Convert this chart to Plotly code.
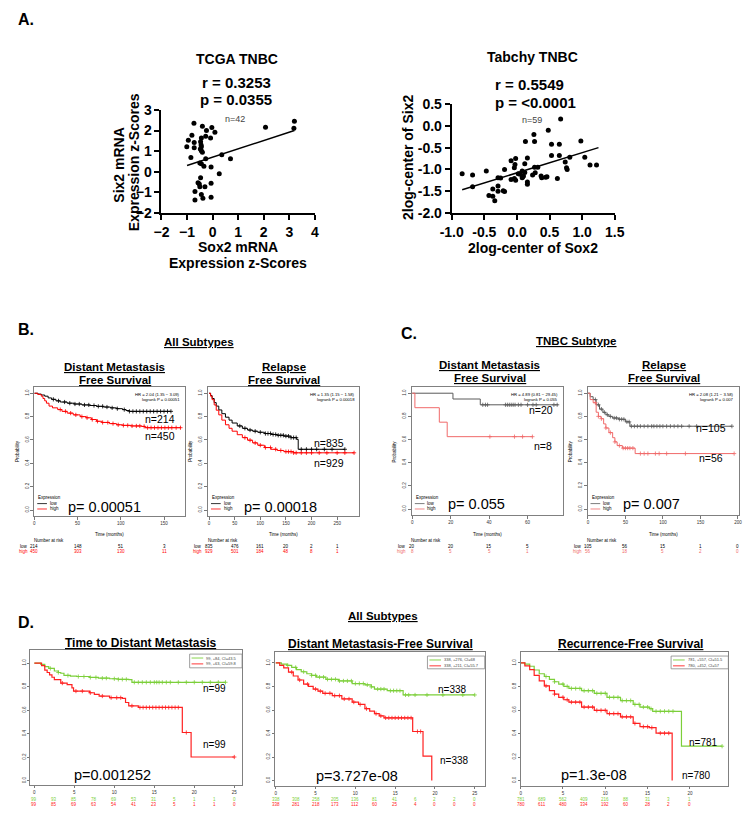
import numpy as np
import plotly.graph_objects as go

W, H = 750, 817
FONT = "Liberation Sans, Arial, Helvetica, sans-serif"

# ---------------- Panel A: scatter data ----------------
tcga_sox2 = [-0.73, -0.40, -0.03, -0.24, 0.09, -0.81, -0.95, -1.01, -0.72, -0.72, -0.85, -0.44,
             -0.27, -0.08, -0.47, -0.44, -0.48, -0.44, -0.27, -0.50, -0.44, -0.34, -0.06, 0.26,
             0.36, 0.70, -0.47, -0.57, -0.50, -0.30, -0.06, -0.69, -0.44, -0.38, -0.69, -0.06,
             2.07, 3.20, 3.18, -0.45, -0.40, -0.52]
tcga_six2 = [2.35, 2.21, 2.15, 2.00, 1.92, 1.77, 1.53, 1.21, 1.42, 1.16, 0.69, 1.64,
             1.72, 1.64, 1.45, 1.21, 1.10, 1.02, 0.63, 0.42, 0.39, 0.26, 0.23, -0.10,
             0.82, 0.63, -0.29, -0.53, -0.73, -0.73, -0.56, -0.96, -1.11, -1.29, -1.37, -1.24,
             2.16, 2.45, 2.11, 1.30, 0.95, -0.60]
tcga_fit_x = [-1.0, 3.2]
tcga_fit_y = [0.30, 2.00]

tabchy_sox2 = [-0.84, -0.68, -0.68, -0.47, -0.43, -0.37, -0.37, -0.34, -0.29, -0.29, -0.29, -0.21,
               -0.19, -0.19, -0.09, -0.09, -0.04, -0.02, -0.03, -0.04, -0.02, 0.02, 0.05, 0.08,
               0.09, 0.12, 0.08, 0.13, 0.16, 0.16, 0.16, 0.12, 0.26, 0.27, 0.27, 0.24, 0.28,
               0.32, 0.37, 0.38, 0.46, 0.48, 0.53, 0.53, 0.62, 0.65, 0.65, 0.67, 0.74, 0.76,
               0.77, 0.81, 0.98, 1.04, 1.12, 1.22, 0.10, -0.25, 0.44]
tabchy_six2 = [-1.10, -1.13, -1.40, -1.04, -1.60, -1.45, -1.62, -1.72, -1.38, -1.19, -1.50, -1.49,
               -1.51, -1.00, -0.80, -1.23, -1.21, -0.75, -0.89, -0.96, -1.25, -1.10, -1.11, -1.04,
               -1.17, -1.07, -1.19, -0.36, -0.74, -1.29, -1.34, -0.87, -0.20, -0.36, -0.95, -1.13, -1.08,
               -0.95, -1.15, -1.19, -1.17, -0.10, -0.42, -0.68, -1.21, -0.42, -0.68, 0.16, -0.83, -0.96,
               -1.00, -0.72, -0.35, -0.72, -0.90, -0.90, -1.15, -1.20, -1.18]
tabchy_fit_x = [-0.84, 1.25]
tabchy_fit_y = [-1.47, -0.50]

tcga_xticks = [-2, -1, 0, 1, 2, 3, 4]
tcga_yticks = [-2, -1, 0, 1, 2, 3]
tabchy_xticks = [-1.0, -0.5, 0.0, 0.5, 1.0, 1.5]
tabchy_xlabels = ["-1.0", "-0.5", "0.0", "0.5", "1.0", "1.5"]
tabchy_yticks = [-2.0, -1.5, -1.0, -0.5, 0.0, 0.5]
tabchy_ylabels = ["-2.0", "-1.5", "-1.0", "-0.5", "0.0", "0.5"]

# ---------------- Panel B: KM, all subtypes (months) ----------------
b1_low_t = [0, 4, 8, 12, 16, 20, 25, 30, 38, 46, 55, 64, 72, 80, 88, 95, 102, 106, 110, 158]
b1_low_s = [1.0, 0.993, 0.985, 0.975, 0.96, 0.948, 0.935, 0.925, 0.915, 0.908, 0.90, 0.895, 0.888,
            0.882, 0.875, 0.868, 0.86, 0.852, 0.845, 0.845]
b1_low_cens = [22, 28, 35, 41, 47, 52, 58, 63, 69, 74, 79, 84, 90, 96, 104, 110, 114, 118, 122, 126,
               130, 134, 138, 142, 146, 150, 154, 158]
b1_high_t = [0, 4, 8, 10, 12, 14, 17, 21, 27, 32, 38, 45, 53, 60, 66, 72, 78, 87, 95, 102, 112, 124, 128, 169]
b1_high_s = [1.0, 0.99, 0.975, 0.955, 0.935, 0.915, 0.89, 0.875, 0.86, 0.845, 0.83, 0.815, 0.80, 0.79,
             0.775, 0.76, 0.75, 0.74, 0.73, 0.725, 0.72, 0.716, 0.705, 0.705]
b1_high_cens = [30, 36, 42, 48, 55, 61, 67, 73, 79, 85, 91, 97, 103, 108, 113, 118, 122, 127, 131, 135,
                139, 143, 147, 151, 155, 159, 164, 169]
b1_risk_t = [0, 50, 100, 150]
b1_risk_low = [214, 148, 51, 3]
b1_risk_high = [450, 303, 130, 11]

b2_low_t = [0, 3, 6, 10, 14, 19, 25, 32, 39, 45, 55, 65, 75, 85, 95, 108, 121, 133, 146, 160, 171, 174, 265]
b2_low_s = [1.0, 0.98, 0.955, 0.92, 0.89, 0.857, 0.825, 0.795, 0.77, 0.745, 0.72, 0.70, 0.685, 0.675,
            0.666, 0.655, 0.647, 0.64, 0.633, 0.62, 0.605, 0.52, 0.52]
b2_low_cens = [60, 70, 80, 90, 100, 110, 115, 120, 125, 130, 135, 140, 145, 150, 155, 160, 165, 170,
               180, 190, 200, 210, 225, 240, 265]
b2_high_t = [0, 3, 6, 10, 14, 19, 25, 32, 39, 45, 55, 65, 75, 85, 95, 108, 121, 133, 146, 165, 283]
b2_high_s = [1.0, 0.975, 0.945, 0.90, 0.855, 0.815, 0.77, 0.73, 0.70, 0.675, 0.645, 0.62, 0.598,
             0.575, 0.555, 0.535, 0.52, 0.51, 0.50, 0.49, 0.49]
b2_high_cens = [70, 80, 90, 100, 110, 120, 130, 140, 150, 155, 160, 165, 170, 180, 190, 200, 215,
                230, 250, 265, 283]
b2_risk_t = [0, 50, 100, 150, 200, 250]
b2_risk_low = [835, 476, 161, 20, 2, 1]
b2_risk_high = [929, 501, 184, 48, 8, 1]

# ---------------- Panel C: KM, TNBC subtype (months) ----------------
c1_low_t = [0, 21.2, 35.4, 76]
c1_low_s = [1.0, 0.95, 0.90, 0.90]
c1_low_cens = [36.7, 38.1, 39.2, 48.5, 49.5, 50.5, 51.5, 52.5, 53.5, 55.2, 56.6, 60, 62.8, 64.5, 73.7, 75.4]
c1_high_t = [0, 1.4, 14.1, 18.2, 62.6]
c1_high_s = [1.0, 0.875, 0.75, 0.625, 0.625]
c1_high_cens = [40.4, 53.2, 57.4, 62.5]
c1_risk_t = [0, 20, 40, 60]
c1_risk_low = [20, 20, 15, 5]
c1_risk_high = [8, 5, 5, 1]

c2_low_t = [0, 3, 7, 11, 15.5, 20, 24, 28, 32.6, 41, 50, 56, 192]
c2_low_s = [1.0, 0.97, 0.945, 0.90, 0.863, 0.835, 0.814, 0.80, 0.786, 0.775, 0.753, 0.715, 0.715]
c2_low_cens = [10, 14, 18, 22, 26, 30, 35, 38, 42, 45, 48, 52, 55, 58, 62, 66, 70, 75, 80, 85, 88,
               92, 96, 100, 105, 110, 115, 120, 125, 135, 145, 192]
c2_high_t = [0, 3, 7, 11, 14, 17.5, 21, 24, 28, 33, 36, 39, 46, 63, 195]
c2_high_s = [1.0, 0.945, 0.918, 0.836, 0.80, 0.78, 0.735, 0.70, 0.66, 0.616, 0.58, 0.548, 0.526, 0.479, 0.479]
c2_high_cens = [10, 14, 18, 24, 30, 36, 42, 47, 50, 53, 56, 60, 70, 75, 80, 90, 95, 105, 130, 195]
c2_risk_t = [0, 50, 100, 150, 200]
c2_risk_low = [105, 56, 15, 1, 0]
c2_risk_high = [56, 18, 5, 2, 0]

# ---------------- Panel D: KM (years) ----------------
d1_low_t = [0, 0.8, 1.3, 1.8, 2.5, 3.0, 3.3, 3.7, 4.5, 5.3, 6.9, 8.0, 9.4, 10.5, 11.8, 12.2, 23.9]
d1_low_s = [1.0, 0.99, 0.97, 0.955, 0.933, 0.92, 0.914, 0.895, 0.89, 0.886, 0.878, 0.872, 0.867,
            0.862, 0.859, 0.837, 0.837]
d1_low_cens = [2.0, 3.0, 4.2, 5.5, 6.2, 7.0, 7.7, 8.5, 9.0, 10.0, 10.5, 11.0, 11.5, 12.5, 13.0, 13.5,
               14.0, 14.5, 15.0, 15.3, 15.6, 16.0, 16.5, 17.0, 18.0, 19.0, 20.0, 21.0, 22.0, 23.0, 23.9]
d1_high_t = [0, 0.9, 1.3, 1.6, 1.9, 2.2, 2.5, 3.3, 4.1, 4.7, 4.9, 6.9, 7.5, 8.1, 9.4, 11.0, 11.4,
             11.8, 13.0, 18.5, 19.6, 25.0]
d1_high_s = [1.0, 0.978, 0.94, 0.92, 0.90, 0.88, 0.859, 0.83, 0.817, 0.789, 0.762, 0.748, 0.735,
             0.72, 0.706, 0.70, 0.665, 0.637, 0.623, 0.41, 0.202, 0.202]
d1_high_cens = [3.5, 5.2, 6.0, 7.0, 8.5, 9.6, 10.3, 10.8, 12.2, 13.2, 13.6, 14.0, 14.4, 14.8, 15.2,
                15.6, 16.0, 16.4, 16.8, 17.2, 17.6, 18.0, 19.0, 25.0]
d1_risk_t = [0, 2.5, 5, 7.5, 10, 12.5, 15, 17.5, 20, 22.5, 25]
d1_risk_low = [99, 93, 85, 78, 69, 53, 31, 5, 1, 1, 0]
d1_risk_high = [99, 85, 69, 63, 54, 41, 23, 5, 1, 1, 0]
d1_legend = ["99, +84, CI=43.5", "99, +63, CI=59.8"]

d2_low_t = [0, 0.7, 1.4, 2.0, 2.6, 3.2, 3.9, 4.5, 5.1, 6.3, 7.9, 9.6, 11.2, 12.0, 12.4, 14.0, 16.0, 25.0]
d2_low_s = [1.0, 0.99, 0.98, 0.962, 0.944, 0.925, 0.908, 0.894, 0.88, 0.861, 0.847, 0.825, 0.814,
            0.797, 0.778, 0.764, 0.728, 0.728]
d2_low_cens = [1.5, 2.5, 3.5, 4.5, 5.0, 5.5, 6.0, 6.5, 7.0, 7.5, 8.0, 8.5, 9.0, 9.5, 10.0, 10.5, 11.0,
               11.5, 12.0, 12.8, 13.2, 13.6, 14.4, 14.8, 15.2, 15.6, 16.3, 16.7, 17.5, 19.0, 21.0, 23.5, 25.0]
d2_high_t = [0, 0.5, 1.0, 1.6, 2.2, 2.8, 3.5, 4.1, 4.7, 5.3, 5.9, 7.1, 8.3, 9.6, 10.4, 11.2, 11.8,
             12.4, 13.0, 13.6, 17.2, 18.5, 19.6]
d2_high_s = [1.0, 0.98, 0.958, 0.922, 0.889, 0.855, 0.82, 0.80, 0.778, 0.76, 0.742, 0.722, 0.694,
             0.667, 0.647, 0.611, 0.59, 0.569, 0.55, 0.533, 0.417, 0.208, 0.0]
d2_high_cens = [2.0, 3.0, 4.0, 5.0, 5.6, 6.2, 6.8, 7.4, 8.0, 8.6, 9.2, 9.8, 10.6, 11.4, 12.6, 13.2,
                13.8, 14.2, 14.6, 15.0, 15.4, 15.8, 16.2, 16.6, 17.0, 17.8, 18.2]
d2_risk_t = [0, 2.5, 5, 7.5, 10, 12.5, 15, 17.5, 20, 22.5, 25]
d2_risk_low = [338, 308, 258, 205, 136, 81, 41, 6, 2, 2, 0]
d2_risk_high = [338, 281, 218, 173, 112, 60, 25, 4, 0, 0, 0]
d2_legend = ["338, +276, CI=68", "338, +211, CI=55.7"]

d3_low_t = [0, 0.5, 1.07, 1.6, 2.2, 2.8, 3.4, 4.0, 4.5, 5.1, 5.7, 7.2, 8.7, 10.2, 11.8, 13.3, 14.1,
            15.2, 15.6, 19.0, 23.8]
d3_low_s = [1.0, 0.99, 0.972, 0.94, 0.908, 0.885, 0.861, 0.84, 0.82, 0.80, 0.783, 0.764, 0.742,
            0.708, 0.68, 0.647, 0.625, 0.611, 0.589, 0.292, 0.292]
d3_low_cens = [3.0, 4.0, 5.0, 5.5, 6.0, 6.5, 7.0, 7.5, 8.0, 8.5, 9.0, 9.5, 10.0, 10.5, 11.0, 11.5,
               12.0, 12.5, 13.0, 13.5, 14.0, 14.5, 15.0, 15.4, 16.0, 16.5, 17.0, 17.5, 18.0, 23.8]
d3_high_t = [0, 0.5, 1.07, 1.6, 2.2, 2.8, 3.4, 4.0, 4.5, 5.1, 5.7, 7.2, 8.7, 10.2, 11.8, 13.3, 14.1,
             15.2, 16.0, 17.9]
d3_high_s = [1.0, 0.975, 0.944, 0.895, 0.847, 0.805, 0.764, 0.735, 0.708, 0.687, 0.667, 0.625,
             0.597, 0.569, 0.542, 0.486, 0.458, 0.45, 0.403, 0.0]
d3_high_cens = [3.0, 4.0, 5.0, 5.5, 6.0, 6.5, 7.0, 7.5, 8.0, 8.5, 9.0, 9.5, 10.0, 10.5, 11.0, 11.5,
                12.0, 12.5, 13.0, 13.5, 14.5, 15.0, 15.5, 16.5, 17.0, 17.5]
d3_risk_t = [0, 2.5, 5, 7.5, 10, 12.5, 15, 17.5, 20]
d3_risk_low = [781, 689, 562, 409, 216, 88, 31, 3, 1]
d3_risk_high = [780, 611, 480, 334, 192, 60, 28, 2, 0]
d3_legend = ["781, +557, CI=51.5", "780, +452, CI=57"]

km_yticks = [0.0, 0.2, 0.4, 0.6, 0.8, 1.0]
km_ylabels = ["0.0", "0.2", "0.4", "0.6", "0.8", "1.0"]

# ------------------------------------------------------------------
fig = go.Figure()
annotations = []
shapes = []
axes = {}


def px_x(x):
    return x / W


def px_y(y):
    return 1 - y / H


def T(text, x, y, size, color="black", bold=False, xanchor="center", yanchor="middle",
      angle=0, xref=None, yref=None):
    annotations.append(dict(
        text=text, showarrow=False,
        x=x if xref else px_x(x), xref=xref or "paper",
        y=y if yref else px_y(y), yref=yref or "paper",
        xanchor=xanchor, yanchor=yanchor, textangle=angle, borderpad=0,
        font=dict(family=FONT, size=size, color=color, weight="bold" if bold else "normal"),
    ))


def ax_names(i):
    return ("x" if i == 1 else f"x{i}"), ("y" if i == 1 else f"y{i}")


def add_axes(i, xdom, ydom, xr, yr, xkw, ykw):
    xn, yn = ax_names(i)
    axes["xaxis" if i == 1 else f"xaxis{i}"] = dict(
        domain=[px_x(xdom[0]), px_x(xdom[1])], range=xr, anchor=yn,
        showgrid=False, zeroline=False, **xkw)
    axes["yaxis" if i == 1 else f"yaxis{i}"] = dict(
        domain=[px_y(ydom[1]), px_y(ydom[0])], range=yr, anchor=xn,
        showgrid=False, zeroline=False, **ykw)


# ---------------- Panel A ----------------
a_axis = dict(showline=True, linecolor="black", linewidth=2, ticks="outside", ticklen=5,
              tickwidth=2, tickcolor="black",
              tickfont=dict(family=FONT, size=14, color="black", weight="bold"))

add_axes(1, (154, 312), (104, 209), [-2, 4], [-2, 3],
         dict(tickvals=tcga_xticks, **a_axis), dict(tickvals=tcga_yticks, **a_axis))
fig.add_trace(go.Scatter(x=tcga_sox2, y=tcga_six2, mode="markers", xaxis="x", yaxis="y",
                         marker=dict(color="black", size=5), showlegend=False))
fig.add_trace(go.Scatter(x=tcga_fit_x, y=tcga_fit_y, mode="lines", xaxis="x", yaxis="y",
                         line=dict(color="black", width=1.5), showlegend=False))

add_axes(2, (453, 621), (98, 209), [-1, 1.5], [-2, 0.5],
         dict(tickvals=tabchy_xticks, ticktext=tabchy_xlabels, **a_axis),
         dict(tickvals=tabchy_yticks, ticktext=tabchy_ylabels, **a_axis))
fig.add_trace(go.Scatter(x=tabchy_sox2, y=tabchy_six2, mode="markers", xaxis="x2", yaxis="y2",
                         marker=dict(color="black", size=5), showlegend=False))
fig.add_trace(go.Scatter(x=tabchy_fit_x, y=tabchy_fit_y, mode="lines", xaxis="x2", yaxis="y2",
                         line=dict(color="black", width=1.5), showlegend=False))

T("A.", 5, 12, 16, bold=True, xanchor="left")
T("TCGA TNBC", 232, 52, 14, bold=True)
T("r = 0.3253", 231, 76, 15, bold=True)
T("p = 0.0355", 231, 93, 15, bold=True)
T("n=42", 230, 113, 9, color="#444")
T("Six2 mRNA", 110, 160, 14, bold=True, angle=-90)
T("Expression z-Scores", 126, 157, 14, bold=True, angle=-90)
T("Sox2 mRNA", 233, 244, 14, bold=True)
T("Expression z-Scores", 233, 260, 14, bold=True)

T("Tabchy TNBC", 536, 50, 14, bold=True)
T("r = 0.5549", 533, 78, 15, bold=True)
T("p = <0.0001", 539, 96, 15, bold=True)
T("n=59", 536, 114, 9, color="#444")
T("2log-center of Six2", 408, 153, 14, bold=True, angle=-90)
T("2log-center of Sox2", 537, 245, 14, bold=True)


# ---------------- KM helper ----------------
def step_at(t, s, tc):
    t = np.asarray(t, float)
    s = np.asarray(s, float)
    idx = np.searchsorted(t, np.asarray(tc, float), side="right") - 1
    return s[np.clip(idx, 0, len(s) - 1)]


def km_panel(i, xdom, ydom, xr, yr, xticks, curves, box_color="#808080", lw=1.0, ticklen=3):
    xn, yn = ax_names(i)
    common = dict(showline=True, mirror=True, linecolor=box_color, linewidth=1,
                  ticks="outside", ticklen=ticklen, tickwidth=0.8, tickcolor="#555",
                  tickfont=dict(family=FONT, size=4.5, color="#333"))
    add_axes(i, xdom, ydom, xr, yr,
             dict(tickvals=xticks, **common),
             dict(tickvals=km_yticks, ticktext=km_ylabels, tickangle=-90, **common))
    for t, s, cens, col in curves:
        fig.add_trace(go.Scatter(x=t, y=s, mode="lines", xaxis=xn, yaxis=yn,
                                 line=dict(color=col, width=lw, shape="hv"), showlegend=False))
        fig.add_trace(go.Scatter(x=cens, y=step_at(t, s, cens), mode="markers", xaxis=xn, yaxis=yn,
                                 marker=dict(symbol="cross-thin", size=3, line=dict(color=col, width=0.8)),
                                 showlegend=False))


def risk_rows(i, times, low, high, y_low, y_high, c_low, c_high):
    xn, _ = ax_names(i)
    for t, v in zip(times, low):
        T(str(v), t, y_low, 4.5, color=c_low, xref=xn)
    for t, v in zip(times, high):
        T(str(v), t, y_high, 4.5, color=c_high, xref=xn)


# ---------------- Panel B ----------------
T("B.", 5, 328, 16, bold=True, xanchor="left")
T("<u>All Subtypes</u>", 193, 341, 11.5, bold=True)
T("<u>Distant Metastasis</u>", 106, 366, 11.5, bold=True)
T("<u>Free Survival</u>", 106, 379, 11.5, bold=True)
T("<u>Relapse</u>", 280, 366, 11.5, bold=True)
T("<u>Free Survival</u>", 280, 379, 11.5, bold=True)

km_panel(3, (23, 178), (387, 518), [0, 174], [-0.05, 1.05], [0, 50, 100, 150],
         [(b1_low_t, b1_low_s, b1_low_cens, "black"), (b1_high_t, b1_high_s, b1_high_cens, "#ff0000")])
km_panel(4, (202, 358), (387, 518), [-1.9, 293.6], [-0.05, 1.05], [0, 50, 100, 150, 200, 250],
         [(b2_low_t, b2_low_s, b2_low_cens, "black"), (b2_high_t, b2_high_s, b2_high_cens, "#ff0000")])

# ---------------- Panel C ----------------
T("C.", 400, 332, 16, bold=True, xanchor="left")
T("<u>TNBC Subtype</u>", 582, 340, 11.5, bold=True)
T("<u>Distant Metastasis</u>", 492, 364, 11.5, bold=True)
T("<u>Free Survival</u>", 492, 377, 11.5, bold=True)
T("<u>Relapse</u>", 672, 364, 11.5, bold=True)
T("<u>Free Survival</u>", 672, 377, 11.5, bold=True)

C_LOW, C_HIGH = "#5a5a5a", "#f06a6a"
km_panel(5, (412, 568), (387, 517), [-0.15, 78.6], [-0.05, 1.05], [0, 20, 40, 60],
         [(c1_low_t, c1_low_s, c1_low_cens, C_LOW), (c1_high_t, c1_high_s, c1_high_cens, C_HIGH)])
km_panel(6, (593, 749), (387, 517), [-0.4, 201.5], [-0.05, 1.05], [0, 50, 100, 150, 200],
         [(c2_low_t, c2_low_s, c2_low_cens, C_LOW), (c2_high_t, c2_high_s, c2_high_cens, C_HIGH)])

bc_info = [
    (3, 23, 178, 100, "HR = 2.04 (1.35 \u2212 3.09)", "logrank P = 0.00051", "p= 0.00051", 57,
     ("n=214", 152, 419), ("n=450", 152, 437), b1_risk_t, b1_risk_low, b1_risk_high, "black", "#ff0000", 509),
    (4, 202, 358, 280, "HR = 1.35 (1.15 \u2212 1.58)", "logrank P = 0.00018", "p= 0.00018", 238,
     ("n=835", 327, 444), ("n=929", 327, 464), b2_risk_t, b2_risk_low, b2_risk_high, "black", "#ff0000", 509),
    (5, 412, 568, 490, "HR = 4.89 (0.81 \u2212 29.45)", "logrank P = 0.055", "p= 0.055", 448,
     ("n=20", 545, 410), ("n=8", 547, 447), c1_risk_t, c1_risk_low, c1_risk_high, C_LOW, C_HIGH, 506),
    (6, 593, 749, 671, "HR = 2.08 (1.21 \u2212 3.58)", "logrank P = 0.007", "p= 0.007", 628,
     ("n=105", 720, 428), ("n=56", 720, 459), c2_risk_t, c2_risk_low, c2_risk_high, C_LOW, C_HIGH, 506),
]
for (ax, lft, rgt, ctr, hr, lr, ptxt, pxx, nlo, nhi, rt, rl, rh, clo, chi, py) in bc_info:
    T(hr, rgt - 4, 394, 4.2, xanchor="right")
    T(lr, rgt - 4, 399, 4.2, xanchor="right")
    T(ptxt, pxx, py, 14.5, xanchor="left")
    T(nlo[0], nlo[1], nlo[2], 10.5)
    T(nhi[0], nhi[1], nhi[2], 10.5)
    T("Probability", lft - 18, 452, 4.5, angle=-90)
    T("Time (months)", ctr, 537, 4.5)
    T("Number at risk", lft + 15, 543, 4.5)
    T("low", lft - 5, 549, 4.5, xanchor="right")
    T("high", lft - 5, 554, 4.5, color=chi, xanchor="right")
    risk_rows(ax, rt, rl, rh, 549, 554, "black", chi)
    T("Expression", lft + 3, 499, 4.5, xanchor="left")
    shapes.append(dict(type="line", xref="paper", yref="paper", x0=px_x(lft + 3), x1=px_x(lft + 13),
                       y0=px_y(505.5), y1=px_y(505.5), line=dict(color=clo, width=0.8)))
    shapes.append(dict(type="line", xref="paper", yref="paper", x0=px_x(lft + 3), x1=px_x(lft + 13),
                       y0=px_y(511), y1=px_y(511), line=dict(color=chi, width=0.8)))
    T("low", lft + 15, 505.5, 4.5, xanchor="left")
    T("high", lft + 15, 511, 4.5, xanchor="left")

# ---------------- Panel D ----------------
T("D.", 5, 627, 16, bold=True, xanchor="left")
T("<u>All Subtypes</u>", 382, 620, 11.5, bold=True)
T("<u>Time to Distant Metastasis</u>", 132, 648, 12, bold=True)
T("<u>Distant Metastasis-Free Survival</u>", 380, 649, 12, bold=True)
T("<u>Recurrence-Free Survival</u>", 637, 649, 12, bold=True)

D_LOW, D_HIGH = "#7ccf3a", "#ff2020"
km_panel(7, (19, 237), (655, 793), [-0.49, 25.97], [-0.04, 1.11], [0, 5, 10, 15, 20, 25],
         [(d1_low_t, d1_low_s, d1_low_cens, D_LOW), (d1_high_t, d1_high_s, d1_high_cens, D_HIGH)],
         lw=1.2, ticklen=2)
km_panel(8, (271, 487), (657, 794), [-0.09, 26.25], [-0.05, 1.092], [0, 5, 10, 15, 20, 25],
         [(d2_low_t, d2_low_s, d2_low_cens, D_LOW), (d2_high_t, d2_high_s, d2_high_cens, D_HIGH)],
         lw=1.2, ticklen=2)
km_panel(9, (524, 738), (657, 794), [0, 24.54], [-0.05, 1.092], [0, 5, 10, 15, 20],
         [(d3_low_t, d3_low_s, d3_low_cens, D_LOW), (d3_high_t, d3_high_s, d3_high_cens, D_HIGH)],
         lw=1.2, ticklen=2)

d_info = [
    (7, d1_risk_t, d1_risk_low, d1_risk_high, d1_legend, (183, 237, 659, 673),
     "p=0.001252", 63, 782, ("n=99", 209, 694), ("n=99", 209, 751)),
    (8, d2_risk_t, d2_risk_low, d2_risk_high, d2_legend, (428, 487, 661, 674),
     "p=3.727e-08", 312, 783, ("n=338", 454, 695), ("n=338", 456, 768)),
    (9, d3_risk_t, d3_risk_low, d3_risk_high, d3_legend, (679, 738, 661, 674),
     "p=1.3e-08", 565, 782, ("n=781", 712, 749), ("n=780", 705, 783)),
]
for (ax, rt, rl, rh, leg, box, ptxt, pxx, py, nlo, nhi) in d_info:
    risk_rows(ax, rt, rl, rh, 807, 812, D_LOW, D_HIGH)
    T(ptxt, pxx, py, 14.5, xanchor="left")
    T(nlo[0], nlo[1], nlo[2], 10)
    T(nhi[0], nhi[1], nhi[2], 10)
    x0, x1, y0, y1 = box
    shapes.append(dict(type="rect", xref="paper", yref="paper", x0=px_x(x0), x1=px_x(x1),
                       y0=px_y(y1), y1=px_y(y0), line=dict(color="#888", width=0.8)))
    ym1, ym2 = y0 + 4, y0 + 10
    for yy, col, txt in ((ym1, D_LOW, leg[0]), (ym2, D_HIGH, leg[1])):
        shapes.append(dict(type="line", xref="paper", yref="paper", x0=px_x(x0 + 2), x1=px_x(x0 + 14),
                           y0=px_y(yy), y1=px_y(yy), line=dict(color=col, width=0.9)))
        T(txt, x0 + 16, yy, 4, color="#444", xanchor="left")

fig.update_layout(
    width=W, height=H, autosize=False,
    margin=dict(l=0, r=0, t=0, b=0),
    paper_bgcolor="white", plot_bgcolor="white",
    showlegend=False,
    annotations=annotations, shapes=shapes,
    font=dict(family=FONT),
    **axes,
)

fig.write_html("out.html",
               config={"displayModeBar": False, "staticPlot": True},
               post_script="document.body.style.margin='0px';document.body.style.overflow='hidden';")
